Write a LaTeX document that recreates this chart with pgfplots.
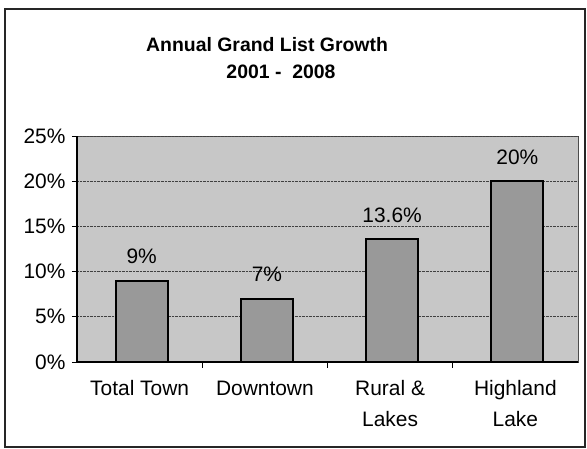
\documentclass[border=0pt]{standalone}
\usepackage{fontspec}
\setmainfont{Liberation Sans}
\usepackage{pgfplots}
\pgfplotsset{compat=1.18}
\begin{document}
\begin{tikzpicture}
\useasboundingbox (0,0) rectangle (587bp,449bp);
\draw[line width=1.6bp, black!85] (5bp,2bp) rectangle (585bp,440bp);
\node[font=\fontsize{19.5}{23}\selectfont\bfseries] at (267bp,404bp) {Annual Grand List Growth};
\node[font=\fontsize{19.5}{23}\selectfont\bfseries] at (281bp,377bp) {2001 -\ \ 2008};
\begin{axis}[
  at={(77bp,87bp)}, anchor=south west,
  scale only axis, width=501bp, height=226bp,
  /pgf/number format/assume math mode=true,
  /pgf/number format/fixed,
  ymin=0, ymax=25, xmin=-0.5, xmax=3.5,
  ytick={0,5,...,25},
  yticklabel={\pgfmathprintnumber{\tick}\%},
  yticklabel style={font=\fontsize{21}{25}\selectfont, xshift=-3bp},
  xtick={0,1,2,3},
  xticklabels={{\strut Total Town}, {\strut Downtown}, {\strut Rural \&\\Lakes}, {\strut Highland\\Lake}},
  xticklabel style={align=center, font=\fontsize{21}{31}\selectfont, anchor=north, yshift=-3bp},
  minor xtick={0.5,1.5,2.5},
  xtick style={draw=none},
  minor x tick style={draw=black, line width=0.8bp},
  ytick style={draw=black, line width=0.8bp},
  tick align=outside,
  major tick length=5bp,
  minor tick length=6bp,
  axis x line*=bottom, axis y line*=left,
  axis line style={black, line width=1.4bp},
  axis background/.style={fill=black!22, draw=black!70, line width=0.8bp},
  ymajorgrids,
  major grid style={black!75, densely dotted, line width=0.8bp},
  ybar, bar width=52bp, bar shift=2bp,
  nodes near coords={\pgfmathprintnumber{\pgfplotspointmeta}\%},
  nodes near coords style={anchor=center, yshift=24bp, font=\fontsize{21}{25}\selectfont, black},
  clip=false,
]
\addplot[fill=black!40, draw=black, line width=2.2bp] coordinates {(0,9) (1,7) (2,13.6) (3,20)};
\end{axis}
\end{tikzpicture}
\end{document}
